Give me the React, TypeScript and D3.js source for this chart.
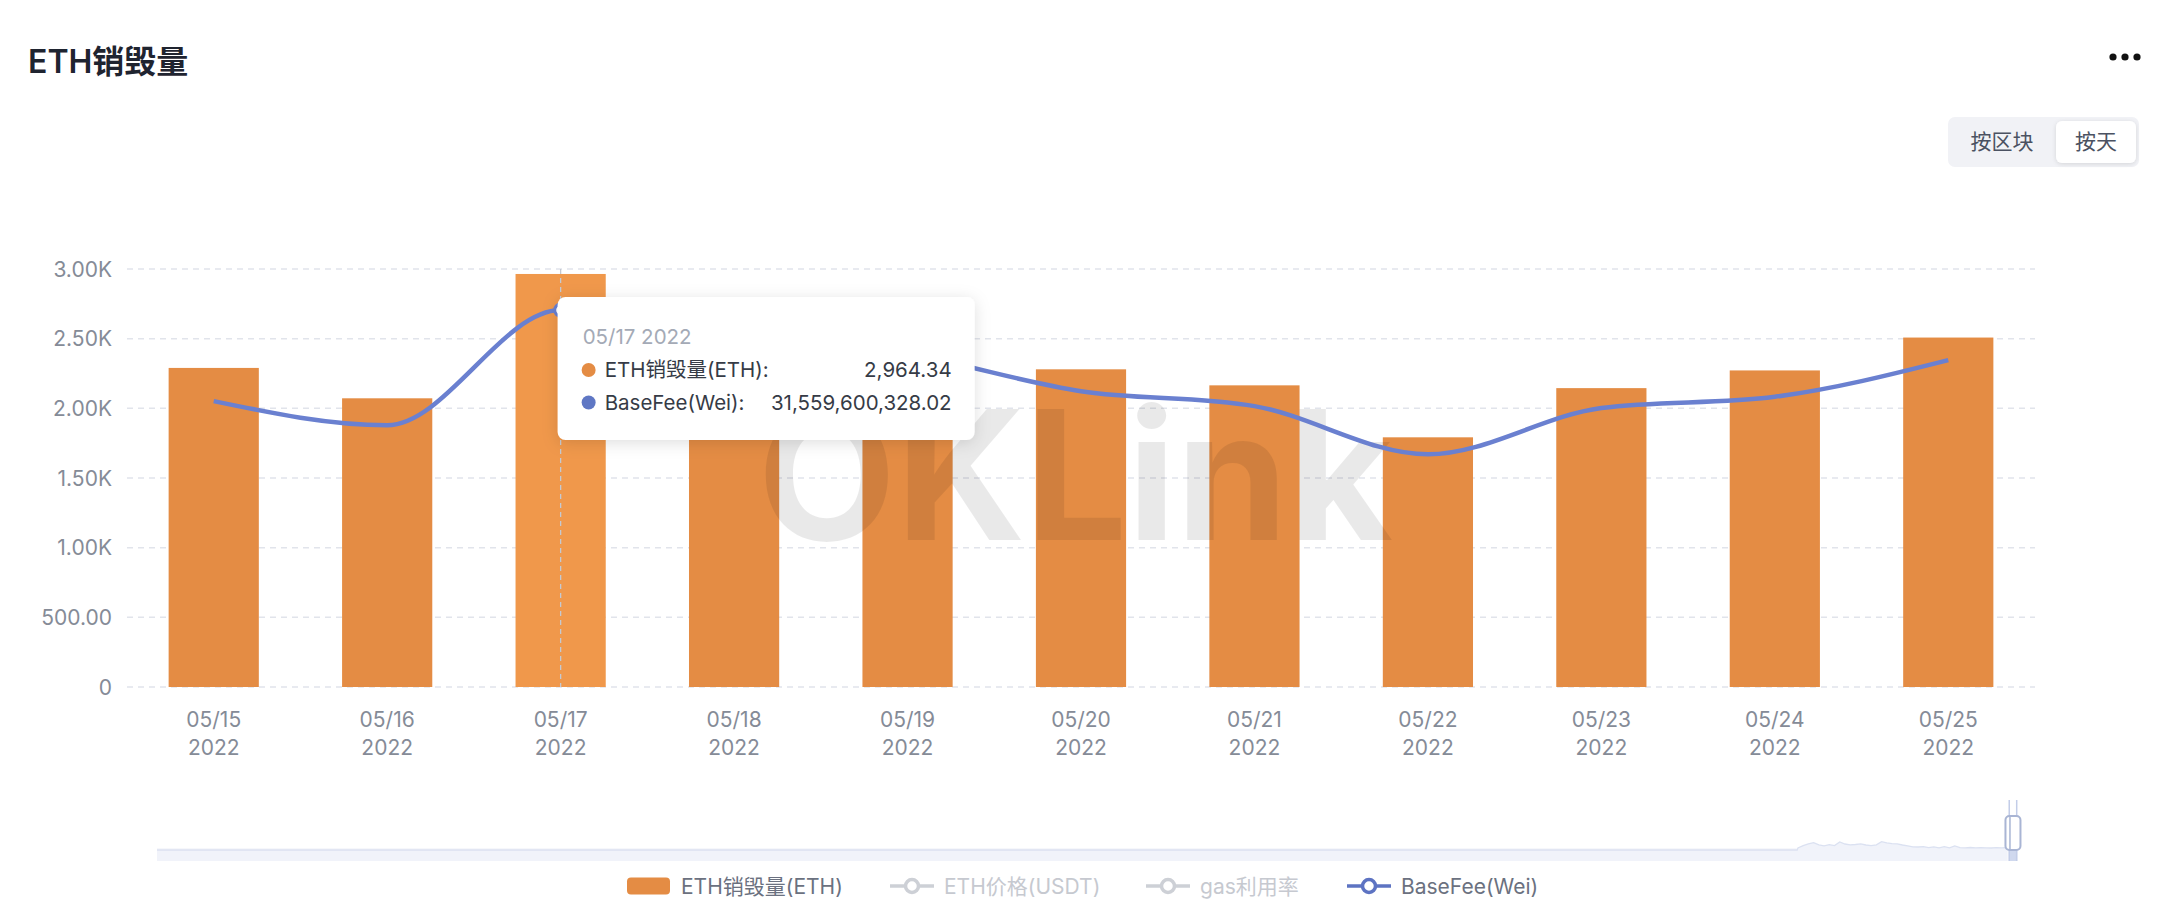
import { useRef, useEffect } from 'react'
import * as d3 from 'd3'

// daily values, 05/15 - 05/25 2022
const dates = ['05/15', '05/16', '05/17', '05/18', '05/19', '05/20', '05/21', '05/22', '05/23', '05/24', '05/25']
const year = '2022'
const burnEth = [2290, 2072, 2964.34, 2420, 2250, 2280, 2165, 1792, 2145, 2272, 2508]
const baseFeeWei = [
  23.94e9, 21.92e9, 31559600328.02, 29.63e9, 27.88e9, 24.77e9, 23.52e9, 19.48e9, 23.36e9, 24.3e9, 27.37e9,
]
const yTicks = [0, 500, 1000, 1500, 2000, 2500, 3000]
const activeIndex = 2

const legendItems = [
  { name: 'ETH销毁量(ETH)', kind: 'bar', active: true },
  { name: 'ETH价格(USDT)', kind: 'line', active: false },
  { name: 'gas利用率', kind: 'line', active: false },
  { name: 'BaseFee(Wei)', kind: 'line', active: true },
]

// weekly burn (K ETH / day) from the London fork, for the slider's data shadow
const shadowBurnK = [
  2.1, 4.3, 6.2, 7.4, 5.1, 4.2, 5.3, 4.4, 8.1, 6.0, 5.2, 5.5, 6.1, 5.0, 4.3, 5.2, 8.3, 7.1, 6.4, 6.2, 5.0,
  4.1, 3.2, 3.0, 3.4, 2.4, 3.1, 2.2, 3.3, 2.1, 4.0, 2.3, 2.2, 2.5, 2.1, 2.3, 2.2, 2.0, 2.3, 2.1, 2.4,
]
const genesis = new Date(2015, 6, 30)
const londonFork = new Date(2021, 7, 5)
const windowStart = new Date(2022, 4, 15)
const windowEnd = new Date(2022, 4, 25)

const W = 2172
const H = 922
const FONT = "Inter, 'Noto Sans CJK SC', sans-serif"
const BAR = '#e48c44'
const BAR_HI = '#f0984b'
const LINE = '#6a80d0'

const fmtTick = (v: number) => (v === 0 ? '0' : v < 1000 ? d3.format('.2f')(v) : d3.format('.2f')(v / 1000) + 'K')

const App = () => {
  const svgRef = useRef<SVGSVGElement>(null)

  useEffect(() => {
    const svg = d3.select(svgRef.current as SVGSVGElement)
    svg.selectAll('*').remove()

    const defs = svg.append('defs')
    const sh = defs.append('filter').attr('id', 'tipShadow').attr('x', '-10%').attr('y', '-20%').attr('width', '120%').attr('height', '150%')
    sh.append('feDropShadow').attr('dx', 0).attr('dy', 3).attr('stdDeviation', 8).attr('flood-color', '#000').attr('flood-opacity', 0.13)
    const bsh = defs.append('filter').attr('id', 'btnShadow').attr('x', '-20%').attr('y', '-30%').attr('width', '140%').attr('height', '160%')
    bsh.append('feDropShadow').attr('dx', 0).attr('dy', 1).attr('stdDeviation', 2).attr('flood-color', '#000').attr('flood-opacity', 0.12)

    // header
    svg.append('text').attr('x', 28).attr('y', 73).attr('font-size', 32).attr('font-weight', 600)
      .attr('fill', '#1f2430').attr('font-family', FONT).text('ETH销毁量')
    svg.append('g').selectAll('circle').data([2113, 2125, 2137]).enter().append('circle')
      .attr('cx', (d) => d).attr('cy', 57).attr('r', 3.6).attr('fill', '#111')

    const btn = svg.append('g').attr('font-family', FONT).attr('font-size', 21)
    btn.append('rect').attr('x', 1948).attr('y', 117).attr('width', 191).attr('height', 50).attr('rx', 7).attr('fill', '#f1f2f6')
    btn.append('rect').attr('x', 2056).attr('y', 121).attr('width', 80).attr('height', 42).attr('rx', 6).attr('fill', '#fff')
      .attr('filter', 'url(#btnShadow)')
    btn.append('text').attr('x', 2002).attr('y', 142).attr('dy', '0.35em').attr('text-anchor', 'middle').attr('fill', '#4b5262').text('按区块')
    btn.append('text').attr('x', 2096).attr('y', 142).attr('dy', '0.35em').attr('text-anchor', 'middle').attr('fill', '#4b5262').text('按天')

    // scales
    const x = d3.scaleBand<string>().domain(dates).range([127, 2035])
    const y = d3.scaleLinear().domain([0, 3000]).range([687, 269])
    const y2 = d3.scaleLinear().domain([0, 35e9]).range([687, 269])
    const cx = (d: string) => (x(d) as number) + x.bandwidth() / 2
    const barW = x.bandwidth() * 0.52

    // grid + y labels
    const grid = svg.append('g')
    grid.selectAll('line').data(yTicks).enter().append('line')
      .attr('x1', 127).attr('x2', 2035).attr('y1', (d) => y(d)).attr('y2', (d) => y(d))
      .attr('stroke', '#e1e4eb').attr('stroke-width', 1.5).attr('stroke-dasharray', '6 5')
    grid.selectAll('text').data(yTicks).enter().append('text')
      .attr('x', 112).attr('y', (d) => y(d)).attr('dy', '0.36em').attr('text-anchor', 'end')
      .attr('font-size', 21).attr('font-family', FONT).attr('fill', '#858b97').text(fmtTick)

    // x labels
    const xl = svg.append('g').attr('font-size', 21).attr('font-family', FONT).attr('fill', '#858b97').attr('text-anchor', 'middle')
    dates.forEach((d) => {
      xl.append('text').attr('x', cx(d)).attr('y', 727).text(d)
      xl.append('text').attr('x', cx(d)).attr('y', 755).text(year)
    })

    // bars
    svg.append('g').selectAll('rect').data(burnEth).enter().append('rect')
      .attr('x', (_, i) => cx(dates[i]) - barW / 2).attr('width', barW)
      .attr('y', (d) => y(d)).attr('height', (d) => y(0) - y(d))
      .attr('fill', (_, i) => (i === activeIndex ? BAR_HI : BAR))

    // watermark
    svg.append('text').attr('x', 1075).attr('y', 540).attr('text-anchor', 'middle')
      .attr('font-size', 180).attr('font-weight', 700).attr('font-family', FONT)
      .attr('fill', '#000').attr('fill-opacity', 0.085).text('OKLink')

    // axis pointer
    svg.append('line').attr('x1', cx(dates[activeIndex])).attr('x2', cx(dates[activeIndex]))
      .attr('y1', 269).attr('y2', 687).attr('stroke', '#c4c9d2').attr('stroke-width', 1.3).attr('stroke-dasharray', '5 4')

    // base fee line
    const line = d3.line<number>().x((_, i) => cx(dates[i])).y((d) => y2(d)).curve(d3.curveMonotoneX)
    svg.append('path').datum(baseFeeWei).attr('d', line).attr('fill', 'none')
      .attr('stroke', LINE).attr('stroke-width', 4.5).attr('stroke-linejoin', 'round')
    svg.append('circle').attr('cx', cx(dates[activeIndex])).attr('cy', y2(baseFeeWei[activeIndex])).attr('r', 6)
      .attr('fill', '#fff').attr('stroke', LINE).attr('stroke-width', 3)

    // data zoom slider
    const xs = d3.scaleLinear().domain([0, d3.timeDay.count(genesis, windowEnd)]).range([157, 2016.7])
    const ys = d3.scaleLinear().domain([0, 12]).range([850, 838])
    const forkDay = d3.timeDay.count(genesis, londonFork)
    const shadowPts: [number, number][] = [[0, 0], [forkDay - 1, 0]]
    shadowBurnK.forEach((v, i) => shadowPts.push([forkDay + i * 7, v]))
    const dz = svg.append('g')
    dz.append('rect').attr('x', 157).attr('y', 848).attr('width', 2018 - 157).attr('height', 13).attr('fill', '#f6f7fb')
    dz.append('path').datum(shadowPts)
      .attr('d', d3.area<[number, number]>().x((d) => xs(d[0])).y0(861).y1((d) => ys(d[1])))
      .attr('fill', '#f1f3fa')
    dz.append('path').datum(shadowPts)
      .attr('d', d3.line<[number, number]>().x((d) => xs(d[0])).y((d) => ys(d[1])))
      .attr('fill', 'none').attr('stroke', '#dbe1f1').attr('stroke-width', 1.3)
    const ws = xs(d3.timeDay.count(genesis, windowStart))
    const we = xs(d3.timeDay.count(genesis, windowEnd))
    dz.append('rect').attr('x', ws).attr('y', 848).attr('width', we - ws).attr('height', 13).attr('fill', '#cfd8ee')
    dz.selectAll('line.edge').data([ws, we]).enter().append('line').attr('class', 'edge')
      .attr('x1', (d) => d).attr('x2', (d) => d).attr('y1', 800).attr('y2', 861)
      .attr('stroke', '#c3cde8').attr('stroke-width', 1.5)
    const hm = (ws + we) / 2
    dz.append('rect').attr('x', hm - 7.5).attr('y', 816).attr('width', 15).attr('height', 34).attr('rx', 4)
      .attr('fill', '#fff').attr('stroke', '#a9b5d4').attr('stroke-width', 2)
    dz.append('line').attr('x1', hm - 3).attr('x2', hm - 3).attr('y1', 817).attr('y2', 849)
      .attr('stroke', '#a9b5d4').attr('stroke-width', 1.5)

    // legend
    const lg = svg.append('g').attr('font-size', 21).attr('font-family', FONT)
    const legendX = [627, 890, 1146, 1347]
    legendItems.forEach((it, i) => {
      const g = lg.append('g').attr('transform', `translate(${legendX[i]}, 886)`)
      const col = it.active ? (it.kind === 'bar' ? BAR : '#5d73c2') : '#cdd0d6'
      if (it.kind === 'bar') {
        g.append('rect').attr('x', 0).attr('y', -8.5).attr('width', 43).attr('height', 17).attr('rx', 4).attr('fill', col)
      } else {
        g.append('line').attr('x1', 0).attr('x2', 44).attr('y1', 0).attr('y2', 0).attr('stroke', col).attr('stroke-width', 3.5)
        g.append('circle').attr('cx', 22).attr('cy', 0).attr('r', 6.5).attr('fill', '#fff').attr('stroke', col).attr('stroke-width', 3.5)
      }
      g.append('text').attr('x', 54).attr('y', 0).attr('dy', '0.36em')
        .attr('fill', it.active ? '#6b7180' : '#c6c9d0').text(it.name)
    })

    // tooltip
    const tx = cx(dates[activeIndex]) - 3
    const ty = 297
    const tip = svg.append('g').attr('transform', `translate(${tx}, ${ty})`).attr('font-family', FONT).attr('font-size', 20.5)
    tip.append('rect').attr('width', 417).attr('height', 143).attr('rx', 8).attr('fill', '#fff').attr('filter', 'url(#tipShadow)')
    tip.append('text').attr('x', 25).attr('y', 47).attr('fill', '#a4aab6').text(`${dates[activeIndex]} ${year}`)
    const rows = [
      { name: 'ETH销毁量(ETH):', color: BAR, value: burnEth[activeIndex] },
      { name: 'BaseFee(Wei):', color: '#5f77c4', value: baseFeeWei[activeIndex] },
    ]
    rows.forEach((r, i) => {
      const yy = 80 + i * 32.5
      tip.append('circle').attr('cx', 31).attr('cy', yy - 7).attr('r', 7).attr('fill', r.color)
      tip.append('text').attr('x', 47).attr('y', yy).attr('fill', '#363b46').text(r.name)
      tip.append('text').attr('x', 394).attr('y', yy).attr('text-anchor', 'end').attr('fill', '#363b46')
        .text(d3.format(',.2f')(r.value))
    })
  }, [])

  return (
    <div style={{ position: 'absolute', left: 0, top: 0, width: W, height: H, background: '#fff' }}>
      <svg ref={svgRef} width={W} height={H} style={{ display: 'block' }} />
    </div>
  )
}

export default App
